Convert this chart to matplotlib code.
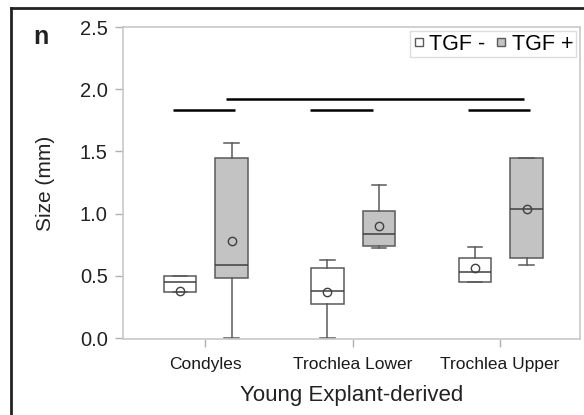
import matplotlib.pyplot as plt
from matplotlib.lines import Line2D

plt.rcParams['font.family'] = ['Liberation Sans', 'DejaVu Sans']

# data
sites = ['Condyles', 'Trochlea Lower', 'Trochlea Upper']
groups = ['TGF -', 'TGF +']

# per site: [TGF-, TGF+]
whis_lo = [[0.37, 0.0], [0.0, 0.72], [0.45, 0.59]]
q1 = [[0.37, 0.48], [0.27, 0.74], [0.45, 0.64]]
med = [[0.45, 0.59], [0.38, 0.84], [0.53, 1.04]]
q3 = [[0.50, 1.45], [0.56, 1.02], [0.64, 1.45]]
whis_hi = [[0.50, 1.57], [0.63, 1.23], [0.73, 1.45]]
means = [[0.38, 0.78], [0.37, 0.90], [0.56, 1.04]]

# significance bars: (x start, x end, y) in category units
sig_x0 = [-0.22, 0.71, 1.78, 0.14]
sig_x1 = [0.20, 1.14, 2.20, 2.16]
sig_y = [1.83, 1.83, 1.83, 1.92]

fills = ['white', '#c3c3c3']
edge = '#5a5a5a'
offs = [-0.17, 0.18]

fig = plt.figure(figsize=(5.84, 4.15), dpi=100)
ax = fig.add_axes([0.2106, 0.1831, 0.7825, 0.7518])

for g in range(2):
    stats = []
    pos = []
    for i in range(len(sites)):
        stats.append({'whislo': whis_lo[i][g], 'q1': q1[i][g], 'med': med[i][g],
                      'q3': q3[i][g], 'whishi': whis_hi[i][g], 'mean': means[i][g],
                      'fliers': []})
        pos.append(i + offs[g])
    ax.bxp(stats, positions=pos, widths=0.22, capwidths=0.1, showmeans=True,
           patch_artist=True, manage_ticks=False,
           boxprops=dict(facecolor=fills[g], edgecolor=edge, linewidth=1.1),
           medianprops=dict(color='#404040', linewidth=1.1),
           whiskerprops=dict(color=edge, linewidth=1.1),
           capprops=dict(color=edge, linewidth=1.1),
           meanprops=dict(marker='o', markerfacecolor='none', markeredgecolor='#404040',
                          markersize=6, markeredgewidth=1.0))

for x0, x1, y in zip(sig_x0, sig_x1, sig_y):
    ax.plot([x0, x1], [y, y], color='black', linewidth=1.8, solid_capstyle='butt')

ax.set_xlim(-0.556, 2.542)
ax.set_ylim(-0.008, 2.5)
ax.set_yticks([0.0, 0.5, 1.0, 1.5, 2.0, 2.5])
ax.set_yticklabels(['0.0', '0.5', '1.0', '1.5', '2.0', '2.5'], fontsize=14.5, color='#222222')
ax.set_xticks(range(len(sites)))
ax.set_xticklabels(sites, fontsize=12.5, color='#1a1a1a')
ax.tick_params(axis='y', length=6, width=1, color='#b0b0b0', pad=5)
ax.tick_params(axis='x', length=6, width=1, color='#b0b0b0', pad=7)
for s in ax.spines.values():
    s.set_color('#c8c8c8')
    s.set_linewidth(1.2)

ax.set_ylabel('Size (mm)', fontsize=15, color='#222222')
ax.yaxis.set_label_coords(-0.148, 0.5)
ax.set_xlabel('Young Explant-derived', fontsize=16, color='#222222')
ax.xaxis.set_label_coords(0.5, -0.148)

handles = [Line2D([], [], marker='s', linestyle='none', markersize=6,
                  markerfacecolor=fills[g], markeredgecolor=edge, markeredgewidth=1)
           for g in range(2)]
leg = ax.legend(handles, groups, loc='upper right', ncol=2, fontsize=15.5,
                handlelength=0.6, handletextpad=0.2, columnspacing=0.4,
                borderpad=0.12, borderaxespad=0.2, fancybox=False, framealpha=1)
leg.get_frame().set_edgecolor('#dddddd')

fig.text(33 / 584, 1 - 44 / 415, 'n', fontsize=18, fontweight='bold', color='#222222')

# outer panel border (left and top only visible)
fig.add_artist(Line2D([11 / 584, 11 / 584], [0, 1 - 8 / 415], transform=fig.transFigure,
                      color='#222222', linewidth=2))
fig.add_artist(Line2D([11 / 584, 1], [1 - 8 / 415, 1 - 8 / 415], transform=fig.transFigure,
                      color='#222222', linewidth=2))

fig.savefig('out.png', dpi=100)
